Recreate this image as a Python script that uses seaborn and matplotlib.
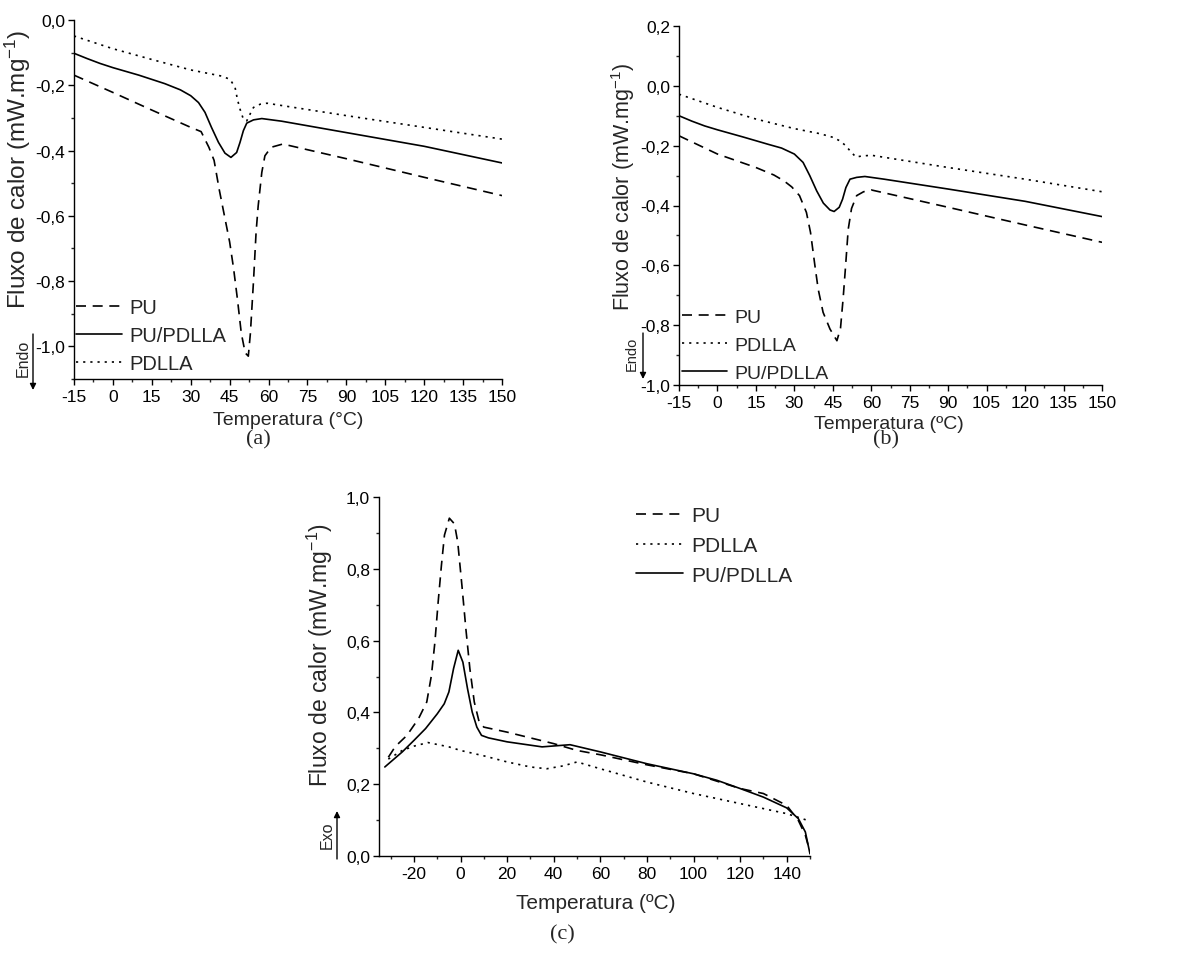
import numpy as np
import pandas as pd
import seaborn as sns
import matplotlib.pyplot as plt
from matplotlib.ticker import MultipleLocator, FuncFormatter

# ---- data ----
# (a)
a_pu_t = [-15, 0, 15, 30, 34, 37, 39, 41, 43, 45, 46.5, 48, 49.5, 51, 52.2, 53, 54.2, 55.2, 56, 57.4, 58.6, 61, 65.5, 90, 120, 150]
a_pu_f = [-0.169, -0.222, -0.276, -0.329, -0.342, -0.39, -0.43, -0.52, -0.60, -0.68, -0.76, -0.855, -0.96, -1.02, -1.03, -0.96, -0.80, -0.65, -0.57, -0.467, -0.416, -0.39, -0.38, -0.425, -0.482, -0.538]
a_mix_t = [-15, -10, -5, 0, 10, 20, 26, 30, 33, 35.5, 38, 40.7, 43.2, 45.5, 47.7, 49, 50.3, 51.6, 54.2, 57.4, 65, 90, 120, 150]
a_mix_f = [-0.102, -0.118, -0.133, -0.146, -0.169, -0.195, -0.214, -0.232, -0.253, -0.283, -0.329, -0.375, -0.408, -0.421, -0.406, -0.375, -0.339, -0.316, -0.306, -0.302, -0.31, -0.345, -0.387, -0.438]
a_pla_t = [-15, 0, 15, 30, 42, 45.2, 47.1, 48, 49, 50.3, 51.6, 52.9, 54.2, 56.8, 59.4, 90, 120, 150]
a_pla_f = [-0.049, -0.088, -0.121, -0.153, -0.172, -0.182, -0.207, -0.243, -0.273, -0.304, -0.309, -0.288, -0.268, -0.258, -0.255, -0.293, -0.329, -0.365]

# (b)
b_pu_t = [-15, 0, 15, 22, 26, 29, 32, 34.7, 36.3, 38, 39.3, 41.2, 43.9, 46.6, 48, 49, 50, 51, 52.3, 54.3, 57, 60, 90, 120, 150]
b_pu_f = [-0.167, -0.228, -0.273, -0.298, -0.318, -0.338, -0.367, -0.423, -0.49, -0.60, -0.68, -0.757, -0.813, -0.852, -0.81, -0.713, -0.60, -0.48, -0.41, -0.367, -0.354, -0.348, -0.406, -0.465, -0.523]
b_mix_t = [-15, -10, -5, 0, 10, 20, 25, 30, 33.4, 36, 38.7, 41.3, 43.9, 45.5, 47.5, 48.8, 50.1, 51.7, 54.3, 57.5, 65, 90, 120, 150]
b_mix_f = [-0.10, -0.118, -0.134, -0.147, -0.171, -0.196, -0.208, -0.228, -0.256, -0.30, -0.351, -0.392, -0.415, -0.42, -0.406, -0.379, -0.34, -0.312, -0.306, -0.303, -0.312, -0.345, -0.386, -0.437]
b_pla_t = [-15, 0, 15, 30, 40, 45, 48, 50, 52, 54, 56, 60, 90, 120, 150]
b_pla_f = [-0.028, -0.072, -0.111, -0.143, -0.16, -0.172, -0.185, -0.2, -0.22, -0.238, -0.235, -0.232, -0.273, -0.312, -0.354]

# (c)
c_pu_t = [-31, -28, -23, -18, -14.5, -12.5, -11, -9.6, -8.2, -6.9, -4.8, -2.6, -1.2, 0.6, 2.3, 4, 5.9, 8, 10, 20, 40, 50, 60, 80, 100, 120, 130, 140, 145, 148, 150]
c_pu_f = [0.275, 0.305, 0.336, 0.383, 0.429, 0.503, 0.596, 0.708, 0.81, 0.894, 0.941, 0.925, 0.874, 0.753, 0.632, 0.522, 0.429, 0.373, 0.359, 0.345, 0.313, 0.294, 0.282, 0.254, 0.229, 0.188, 0.174, 0.141, 0.099, 0.058, 0.011]
c_mix_t = [-32.5, -25, -20, -15, -10, -7, -5, -3, -1, 1, 3, 5, 7, 9, 12, 20, 35, 47, 60, 80, 100, 110, 120, 130, 140, 145, 148, 150]
c_mix_f = [0.248, 0.29, 0.322, 0.355, 0.396, 0.424, 0.457, 0.522, 0.573, 0.54, 0.466, 0.401, 0.359, 0.336, 0.329, 0.318, 0.304, 0.31, 0.29, 0.257, 0.229, 0.211, 0.188, 0.164, 0.134, 0.104, 0.067, 0.006]
c_pla_t = [-31, -25, -20, -14, -5, 0, 10, 20, 30, 37, 44, 50, 60, 80, 100, 120, 140, 150]
c_pla_f = [0.27, 0.294, 0.306, 0.316, 0.304, 0.294, 0.279, 0.262, 0.248, 0.243, 0.251, 0.262, 0.243, 0.206, 0.174, 0.146, 0.118, 0.097]

# ---- style ----
sns.set_style('ticks')
plt.rcParams['font.family'] = ['Liberation Sans', 'DejaVu Sans']
plt.rcParams['mathtext.default'] = 'regular'
plt.rcParams['axes.unicode_minus'] = False

W, H = 1203, 954
fig = plt.figure(figsize=(W / 100, H / 100), dpi=100)

DASH = (0, (6, 4))
DOT = (0, (1.3, 3))
LW = 1.2

comma = FuncFormatter(lambda v, p: f'{v:.1f}'.replace('.', ','))


def px_axes(l, t, r, b):
    return fig.add_axes([l / W, 1 - b / H, (r - l) / W, (b - t) / H])


def style_axes(ax, xmaj, xmin, ymaj, ymin):
    sns.despine(ax=ax)
    for s in ['left', 'bottom']:
        ax.spines[s].set_linewidth(1.0)
        ax.spines[s].set_color('black')
    ax.xaxis.set_major_locator(MultipleLocator(xmaj))
    ax.xaxis.set_minor_locator(MultipleLocator(xmin))
    ax.yaxis.set_major_locator(MultipleLocator(ymaj))
    ax.yaxis.set_minor_locator(MultipleLocator(ymin))
    ax.yaxis.set_major_formatter(comma)
    ax.tick_params(which='major', direction='out', length=4.5, width=1.0, labelsize=12.5, colors='black')
    ax.tick_params(which='minor', direction='out', length=2.5, width=1.0)
    ax.tick_params(axis='x', pad=3)
    ax.tick_params(axis='y', pad=2)


def draw(ax, t, f, ls, label):
    sns.lineplot(x=t, y=f, ax=ax, color='black', linestyle=ls, linewidth=LW,
                 label=label, sort=False, estimator=None)


def side_note(txt, tx, ty, size, ax_x, y_tail, y_head):
    fig.text(tx / W, 1 - ty / H, txt, rotation=90, ha='center', va='center', fontsize=size)
    fig.add_artist(plt.matplotlib.patches.FancyArrowPatch(
        (ax_x / W, 1 - y_tail / H), (ax_x / W, 1 - y_head / H), transform=fig.transFigure,
        arrowstyle='-|>', mutation_scale=9, shrinkA=0, shrinkB=0,
        color='black', linewidth=1.0))


# ---- (a) ----
ax = px_axes(74, 21, 502, 380)
draw(ax, a_pu_t, a_pu_f, DASH, 'PU')
draw(ax, a_mix_t, a_mix_f, '-', 'PU/PDLLA')
draw(ax, a_pla_t, a_pla_f, DOT, 'PDLLA')
ax.set_xlim(-15, 150)
ax.set_ylim(-1.1, 0.0)
style_axes(ax, 15, 7.5, 0.2, 0.1)
ax.set_xlabel('Temperatura (°C)', fontsize=14)
ax.set_ylabel('Fluxo de calor (mW.mg$^{-1}$)', fontsize=17.5)
ax.xaxis.set_label_coords(0.5, -0.09)
ax.yaxis.set_label_coords(-0.096, 0.588)
ax.legend(loc='lower left', bbox_to_anchor=(0.005, 0.016), frameon=False, fontsize=14.5,
          handlelength=2.3, handletextpad=0.35, labelspacing=0.46, borderpad=0, borderaxespad=0)
side_note('Endo', 23.5, 358, 11.5, 33, 335, 391)
fig.text(258 / W, 1 - 440 / H, '(a)', family='Liberation Serif', fontsize=16, ha='center', va='center')

# ---- (b) ----
ax = px_axes(679, 27, 1102, 386)
draw(ax, b_pu_t, b_pu_f, DASH, 'PU')
draw(ax, b_pla_t, b_pla_f, DOT, 'PDLLA')
draw(ax, b_mix_t, b_mix_f, '-', 'PU/PDLLA')
ax.set_xlim(-15, 150)
ax.set_ylim(-1.0, 0.2)
style_axes(ax, 15, 7.5, 0.2, 0.1)
ax.set_xlabel('Temperatura (ºC)', fontsize=14)
ax.set_ylabel('Fluxo de calor (mW.mg$^{-1}$)', fontsize=15.5)
ax.xaxis.set_label_coords(0.496, -0.083)
ax.yaxis.set_label_coords(-0.099, 0.553)
ax.legend(loc='lower left', bbox_to_anchor=(0.008, 0.008), frameon=False, fontsize=14,
          handlelength=2.3, handletextpad=0.35, labelspacing=0.54, borderpad=0, borderaxespad=0)
side_note('Endo', 632, 354, 10.5, 643, 334, 380)
fig.text(886 / W, 1 - 440 / H, '(b)', family='Liberation Serif', fontsize=16, ha='center', va='center')

# ---- (c) ----
ax = px_axes(379, 498, 810, 857)
draw(ax, c_pu_t, c_pu_f, DASH, 'PU')
draw(ax, c_pla_t, c_pla_f, DOT, 'PDLLA')
draw(ax, c_mix_t, c_mix_f, '-', 'PU/PDLLA')
ax.set_xlim(-35, 150)
ax.set_ylim(0.0, 1.0)
style_axes(ax, 20, 10, 0.2, 0.1)
ax.set_xlabel('Temperatura (ºC)', fontsize=15)
ax.set_ylabel('Fluxo de calor (mW.mg$^{-1}$)', fontsize=16.5)
ax.xaxis.set_label_coords(0.503, -0.104)
ax.yaxis.set_label_coords(-0.102, 0.563)
ax.legend(loc='upper right', bbox_to_anchor=(0.958, 0.974), frameon=False, fontsize=15,
          handlelength=2.3, handletextpad=0.35, labelspacing=0.51, borderpad=0, borderaxespad=0)
side_note('Exo', 327, 835, 11.5, 337, 860, 812)
fig.text(562 / W, 1 - 935 / H, '(c)', family='Liberation Serif', fontsize=16, ha='center', va='center')

fig.savefig('out.png', dpi=100)
